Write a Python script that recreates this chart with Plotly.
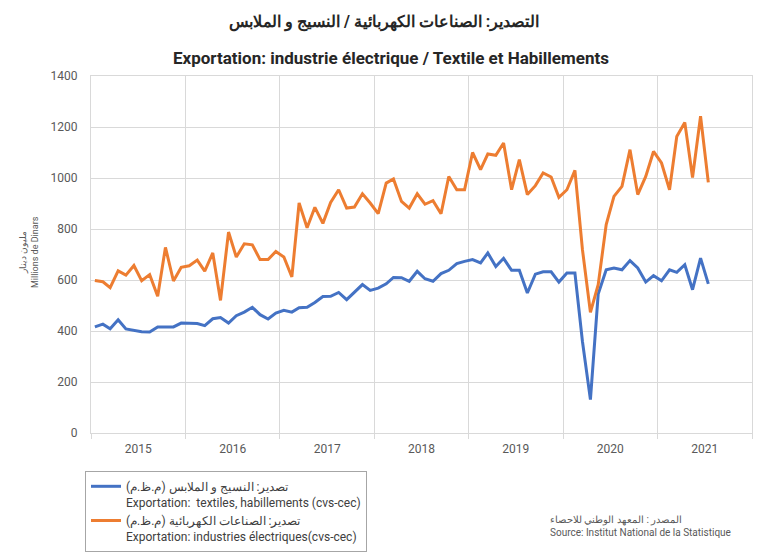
import pandas as pd
import plotly.graph_objs as go

# monthly values, Jan 2015 - Jul 2021 (millions de dinars)
start_month = "2015-01-01"
textile_vals = [
    416, 427, 409, 444, 408, 402, 397, 396, 416, 416, 416, 431,
    429, 429, 421, 448, 453, 431, 460, 474, 493, 464, 447, 470,
    481, 474, 491, 493, 512, 535, 536, 551, 523, 551, 582, 559,
    568, 585, 610, 609, 595, 634, 605, 595, 625, 638, 664, 673,
    680, 667, 706, 653, 685, 638, 638, 549, 623, 632, 632, 592,
    627, 627, 360, 131, 545, 640, 647, 640, 676, 647, 592, 617,
    597, 640, 630, 660, 562, 686, 585,
]
electric_vals = [
    598, 593, 570, 636, 619, 657, 597, 621, 536, 728, 596, 650,
    656, 678, 635, 706, 520, 788, 690, 742, 738, 680, 680, 712,
    690, 612, 902, 805, 885, 822, 904, 954, 882, 886, 938, 902,
    860, 980, 996, 908, 882, 938, 897, 911, 860, 1006, 954, 954,
    1100, 1033, 1094, 1089, 1137, 954, 1072, 935, 970, 1020, 1004, 924,
    954, 1030, 720, 473, 582, 817, 928, 967, 1111, 935, 1006, 1104,
    1059, 954, 1163, 1218, 1002, 1242, 983,
]

textile_name = "تصدير: النسيج و الملابس (م.ظ.م)<br>Exportation:  textiles, habillements (cvs-cec)"
electric_name = "تصدير: الصناعات الكهربائية (م.ظ.م)<br>Exportation: industries électriques(cvs-cec)"

# points sit in the middle of each month, like the excel date axis
months = pd.date_range(start_month, periods=len(textile_vals), freq="MS") + pd.Timedelta(days=15)

font_main = "Liberation Sans Narrow, Roboto, Arial, sans-serif"
grid = "#d9d9d9"
txt = "#595959"

fig = go.Figure()
fig.add_trace(go.Scatter(x=months, y=textile_vals, mode="lines", name=textile_name,
                         line=dict(color="#4472C4", width=3)))
fig.add_trace(go.Scatter(x=months, y=electric_vals, mode="lines", name=electric_name,
                         line=dict(color="#ED7D31", width=3)))

# plot area on screen: left 91, right 752, top 76, bottom 433
# (page body adds an 8px offset, so the figure itself is 8px smaller)
def px_x(p):
    return (p - 91) / 661.0

def px_y(p):
    return (433 - p) / 357.0

fig.update_layout(
    width=759, height=547,
    margin=dict(l=83, r=15, t=68, b=122, autoexpand=False),
    paper_bgcolor="white", plot_bgcolor="white",
    font=dict(family=font_main, size=12, color=txt),
    showlegend=True,
    legend=dict(
        x=px_x(85), y=px_y(471), xanchor="left", yanchor="top",
        bordercolor="#a6a6a6", borderwidth=1, bgcolor="white",
        font=dict(size=12, color="#404040"), valign="top",
        itemwidth=30, tracegroupgap=4,
    ),
    xaxis=dict(
        type="date", range=["2015-01-01", "2022-01-01"],
        tick0="2015-01-01", dtick="M12", tickformat="%Y",
        ticklabelmode="period", showgrid=True, gridcolor=grid, gridwidth=1,
        ticks="outside", ticklen=5, tickcolor=grid,
        showline=True, linecolor=grid, mirror=True,
        tickfont=dict(size=12, color=txt), fixedrange=True,
    ),
    yaxis=dict(
        range=[0, 1400], dtick=200, showgrid=True, gridcolor=grid, gridwidth=1,
        showline=True, linecolor=grid, mirror=True, zeroline=False,
        ticks="", ticklabelstandoff=10,
        tickfont=dict(size=12, color=txt),
    ),
)

fig.add_annotation(text="<b>التصدير: الصناعات الكهربائية / النسيج و الملابس</b>",
                   xref="paper", yref="paper", x=px_x(384), y=px_y(22),
                   xanchor="center", yanchor="middle", showarrow=False,
                   font=dict(size=16, color="#262626"))
fig.add_annotation(text="<b>Exportation: industrie électrique / Textile et Habillements</b>",
                   xref="paper", yref="paper", x=px_x(391), y=px_y(58),
                   xanchor="center", yanchor="middle", showarrow=False,
                   font=dict(size=17, color="#262626"))
fig.add_annotation(text="مليون دينار<br>Millions de Dinars",
                   xref="paper", yref="paper", x=px_x(29), y=px_y(252),
                   xanchor="center", yanchor="middle", textangle=-90, showarrow=False,
                   font=dict(size=9, color=txt))
fig.add_annotation(text="المصدر : المعهد الوطني للاحصاء<br>Source: Institut National de la Statistique",
                   xref="paper", yref="paper", x=px_x(548), y=px_y(526),
                   xanchor="left", yanchor="middle", align="left", showarrow=False,
                   font=dict(size=10, color=txt))

# outer chart border
fig.add_shape(type="rect", xref="paper", yref="paper",
              x0=px_x(3), x1=px_x(763), y0=px_y(560), y1=px_y(5),
              line=dict(color="#d9d9d9", width=1), layer="below")

fig.write_html("out.html")
